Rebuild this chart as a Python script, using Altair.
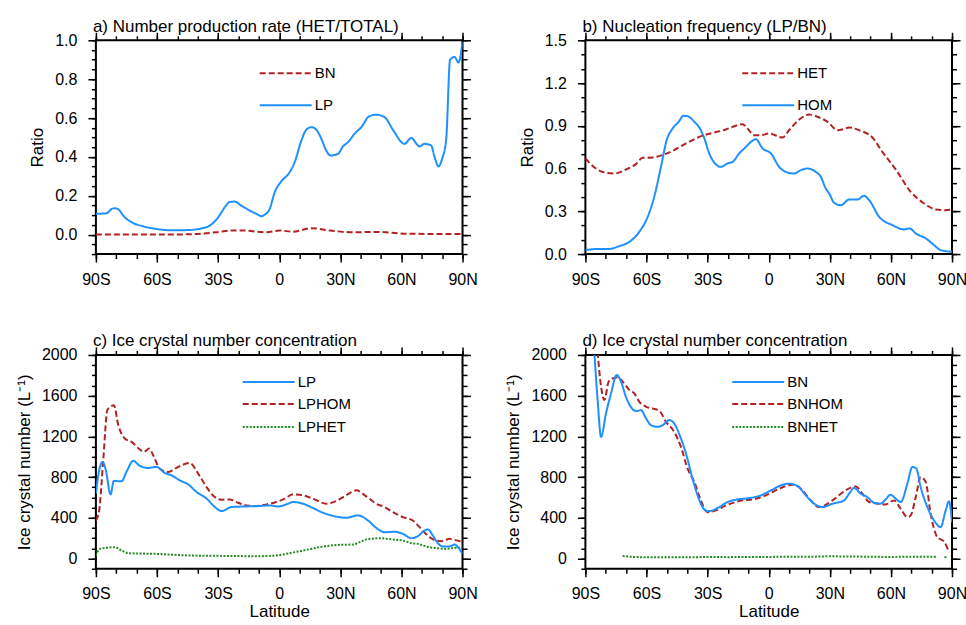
import altair as alt
import pandas as pd

FONT = "Liberation Sans"
BLUE, RED, GREEN = "#1e90ff", "#b22222", "#228b22"
SOLID, DASHED, DOTTED = [1, 0], [6, 3], [2, 1.5]

# ---- a) number production rate HET/TOTAL (latitude, ratio) ----
A_BN = [(-90, 0.0), (-60, 0.0), (-43.9, 0.002), (-31, 0.012), (-22.7, 0.021), (-17.8, 0.021),
        (-6.3, 0.012), (0.2, 0.021), (6.8, 0.015), (15.8, 0.033), (24.8, 0.021), (36.2, 0.012),
        (47.6, 0.014), (62.4, 0.005), (80.3, 0.003), (90, 0.003)]
A_LP = [(-90, 0.107), (-84.8, 0.11), (-82.3, 0.132), (-80.7, 0.136), (-78.6, 0.127), (-76.6, 0.098),
        (-72.5, 0.064), (-66.8, 0.043), (-60.2, 0.029), (-52.1, 0.022), (-43.9, 0.024), (-37.4, 0.034),
        (-34.1, 0.046), (-30.0, 0.089), (-26.7, 0.141), (-24.3, 0.168), (-21.8, 0.170), (-18.6, 0.149),
        (-14.5, 0.124), (-11.2, 0.107), (-8.8, 0.095), (-7.1, 0.103), (-4.7, 0.132), (-2.2, 0.218),
        (1.1, 0.275), (4.8, 0.316), (7.6, 0.373), (10.9, 0.485), (13.3, 0.540), (15.8, 0.553),
        (18.2, 0.540), (20.7, 0.493), (23.1, 0.433), (25.1, 0.407), (28.9, 0.416), (31.3, 0.454),
        (33.8, 0.476), (37.0, 0.519), (40.3, 0.553), (44.1, 0.608), (47.6, 0.617), (51.7, 0.605),
        (55.8, 0.540), (61.5, 0.467), (64.8, 0.497), (68.9, 0.454), (71.3, 0.467), (74.6, 0.459),
        (76.3, 0.399), (78.2, 0.351), (80.0, 0.390), (82.0, 0.493), (83.9, 0.900), (86.1, 0.914),
        (88.0, 0.885), (90, 0.991)]

# ---- b) nucleation frequency LP/BN ----
B_HET = [(-90, 0.671), (-84.8, 0.600), (-79.9, 0.570), (-75.8, 0.565), (-70.1, 0.593), (-65.2, 0.631),
         (-61.9, 0.675), (-57.0, 0.678), (-51.3, 0.699), (-47.2, 0.724), (-40.6, 0.776), (-34.1, 0.822),
         (-27.6, 0.850), (-21.0, 0.874), (-16.9, 0.897), (-12.8, 0.911), (-10.4, 0.881), (-7.1, 0.834),
         (-3.8, 0.834), (0.2, 0.846), (6.8, 0.818), (10.0, 0.869), (15.0, 0.944), (19.9, 0.979),
         (24.8, 0.958), (28.9, 0.928), (33.8, 0.869), (36.2, 0.874), (39.5, 0.888), (44.4, 0.869),
         (50.9, 0.818), (55.8, 0.717), (62.4, 0.593), (69.7, 0.437), (76.3, 0.355), (82.0, 0.313),
         (86.9, 0.308), (90, 0.313)]
B_HOM = [(-90, 0.028), (-84.8, 0.035), (-79, 0.035), (-73.3, 0.056), (-68.4, 0.086), (-63.5, 0.157),
         (-59.4, 0.262), (-56.2, 0.402), (-52.9, 0.612), (-50.1, 0.799), (-47.2, 0.881), (-44.2, 0.928),
         (-41.9, 0.970), (-39.8, 0.967), (-36.5, 0.928), (-33.8, 0.881), (-31.6, 0.811), (-29.2, 0.706),
         (-25.9, 0.629), (-23.5, 0.612), (-20.2, 0.636), (-17.7, 0.647), (-14.5, 0.706), (-11.2, 0.752),
         (-8.3, 0.792), (-6.3, 0.806), (-3.0, 0.741), (1.1, 0.706), (5.1, 0.612), (8.4, 0.577),
         (12.5, 0.565), (15.8, 0.589), (19.0, 0.600), (23.1, 0.577), (25.6, 0.542), (28.0, 0.460),
         (29.7, 0.425), (32.1, 0.360), (35.4, 0.343), (39.5, 0.383), (43.6, 0.383), (46.8, 0.409),
         (49.3, 0.379), (54.2, 0.262), (60.7, 0.203), (66.4, 0.173), (69.2, 0.180), (72.2, 0.145),
         (77.1, 0.110), (81.2, 0.063), (84.4, 0.028), (90, 0.016)]

# ---- c) ice crystal number concentration, LP scheme (L-1) ----
C_LP = [(-90, 637), (-88.4, 867), (-86.7, 949), (-85.1, 867), (-82.8, 630), (-81.2, 762), (-77.4, 759),
        (-75.0, 851), (-71.7, 959), (-68.4, 910), (-64.3, 890), (-60.2, 900), (-56.2, 841), (-52.9, 818),
        (-48.8, 768), (-44.7, 729), (-40.6, 654), (-35.6, 588), (-31.6, 506), (-28.4, 466), (-23.5, 506),
        (-16.1, 512), (-9.6, 516), (-4.7, 522), (-0.6, 512), (3.5, 532), (6.8, 555), (11.7, 539),
        (16.6, 496), (21.5, 450), (25.6, 424), (32.9, 401), (38.7, 424), (43.6, 374), (47.6, 302),
        (51.7, 259), (56.6, 263), (60.7, 243), (64.8, 200), (68.1, 220), (71.4, 276), (73.0, 286),
        (75.4, 227), (77.9, 151), (80.3, 118), (83.6, 118), (86.1, 138), (87.7, 112), (90, 46)]
C_LPHOM = [(-90, 374), (-88.4, 473), (-86.4, 965), (-84.4, 1458), (-82.8, 1491), (-81.2, 1507),
           (-79.0, 1310), (-75.8, 1179), (-72.5, 1146), (-68.4, 1071), (-66.5, 1048), (-63.8, 1080),
           (-61.9, 1015), (-58.6, 883), (-54.5, 851), (-49.6, 900), (-43.9, 939), (-39.8, 834),
           (-35.7, 703), (-31.6, 604), (-28.4, 578), (-24.3, 581), (-20.2, 548), (-16.1, 522),
           (-11.2, 516), (-6.3, 532), (-1.4, 555), (2.7, 588), (6.8, 631), (11.7, 621), (16.6, 588),
           (23.1, 539), (28.0, 565), (32.9, 621), (37.8, 670), (42.7, 611), (47.6, 539), (51.7, 506),
           (55.8, 456), (60.7, 407), (65.6, 374), (68.9, 309), (73.8, 210), (77.1, 177), (80.3, 171),
           (83.6, 194), (86.1, 184), (88.5, 171), (90, 167)]
C_LPHET = [(-90, 30), (-88, 95), (-84.8, 105), (-80.7, 112), (-77.4, 79), (-74.1, 53), (-60.2, 46),
           (-43.9, 30), (-27.6, 26), (-11.2, 23), (-1.4, 30), (5.1, 53), (13.3, 85), (21.5, 118),
           (29.7, 135), (36.2, 138), (39.5, 161), (42.7, 187), (49.3, 200), (55.8, 187), (60.7, 177),
           (64.8, 151), (68.1, 144), (72.2, 118), (77.1, 102), (82.0, 95), (86.9, 105), (90, 105)]

# ---- d) ice crystal number concentration, BN scheme (L-1) ----
D_BN = [(-90, 3280), (-85.6, 2016), (-84.0, 1557), (-82.3, 1195), (-79.9, 1425), (-77.4, 1622),
        (-74.6, 1803), (-72.5, 1737), (-70.1, 1589), (-67.1, 1474), (-65.2, 1448), (-62.7, 1458),
        (-60.2, 1376), (-57.8, 1310), (-54.5, 1294), (-52.1, 1310), (-48.8, 1360), (-46.4, 1327),
        (-43.1, 1179), (-40.6, 1031), (-37.4, 785), (-34.9, 621), (-32.5, 506), (-30.0, 466),
        (-27.5, 473), (-24.3, 506), (-20.2, 555), (-16.1, 578), (-9.6, 594), (-3.8, 621), (1.1, 670),
        (6.0, 719), (10.0, 736), (14.1, 713), (18.2, 621), (22.3, 539), (26.4, 506), (31.3, 539),
        (37.0, 571), (39.5, 637), (41.9, 693), (45.2, 637), (48.4, 604), (51.7, 548), (54.9, 539),
        (57.4, 581), (59.9, 627), (62.4, 588), (64.8, 555), (68.1, 736), (70.5, 900), (72.5, 883),
        (74.6, 703), (77.9, 506), (81.2, 374), (84.4, 309), (86.9, 473), (88.5, 562), (90, 358)]
D_BNHOM = [(-90, 3170), (-84.0, 2016), (-82.3, 1688), (-80.7, 1557), (-78.6, 1737), (-76.6, 1770),
           (-74.1, 1780), (-71.7, 1737), (-68.7, 1662), (-66.0, 1622), (-63.5, 1540), (-60.2, 1491),
           (-57.0, 1474), (-53.7, 1452), (-50.4, 1343), (-46.4, 1245), (-43.1, 1097), (-39.8, 883),
           (-36.5, 752), (-33.3, 571), (-30.0, 456), (-25.9, 473), (-21.0, 522), (-14.5, 565),
           (-6.3, 588), (-1.4, 621), (5.1, 686), (11.7, 726), (15.8, 686), (19.9, 588), (24.8, 506),
           (31.3, 571), (37.8, 670), (42.7, 709), (46.0, 637), (49.3, 555), (54.2, 539), (57.4, 532),
           (61.5, 571), (64.8, 489), (68.1, 407), (69.7, 424), (72.2, 604), (74.6, 801), (77.1, 752),
           (79.5, 440), (82.8, 210), (86.1, 167), (88.5, 62)]
# None marks a missing value (gap in the curve)
D_BNHET = [(-71.7, 25), (-69, 20), (-65, 15), (-55, 12), (-40, 12), (-30, 15), (-20, 14), (-10, 15),
           (0, 16), (10, 18), (20, 18), (30, 22), (40, 20), (50, 18), (60, 16), (70, 18), (80, 18),
           (82.3, 17), (84.3, None), (86.3, 12), (87.7, 14)]

X_MAJOR = [-90, -60, -30, 0, 30, 60, 90]
X_MINOR = list(range(-90, 91, 10))
X_LABEL = ("datum.value === 0 ? '0' : datum.value < 0 ? (-datum.value) + 'S' : datum.value + 'N'")

W, H = 367, 214
MAJOR_TICK, MINOR_TICK = 8, 4.5


def long_frame(series):
    rows = []
    for name, pairs in series:
        seg = 0
        for lat, v in pairs:
            if v is None:
                seg += 1
                continue
            rows.append({"lat": lat, "val": v, "series": name, "seg": f"{name}-{seg}"})
    return pd.DataFrame(rows)


def panel(title, series, styles, ydom, ymajor, yminor, yfmt, ytitle, legend_x, legend_y, xtitle):
    df = long_frame(series)
    names = [n for n, _ in series]
    order = list(styles.keys())
    xs = alt.Scale(domain=[-90, 90], nice=False, zero=False)
    ys = alt.Scale(domain=ydom, nice=False, zero=False)
    base = alt.Chart(df)

    lines = base.mark_line(strokeWidth=2, clip=True, interpolate="monotone").encode(
        x=alt.X("lat:Q", scale=xs, axis=alt.Axis(orient="bottom", values=X_MAJOR, labelExpr=X_LABEL,
                                                  tickSize=MAJOR_TICK, title=xtitle)),
        y=alt.Y("val:Q", scale=ys, axis=alt.Axis(orient="left", values=ymajor, format=yfmt,
                                                  tickSize=MAJOR_TICK, title=ytitle)),
        color=alt.Color("series:N", legend=None,
                        scale=alt.Scale(domain=names, range=[styles[n][0] for n in names])),
        strokeDash=alt.StrokeDash("series:N", legend=None,
                                  scale=alt.Scale(domain=names, range=[styles[n][1] for n in names])),
        detail="seg:N",
    )

    # invisible carriers for the minor ticks and the mirrored top/right tick marks
    def ticks_only(xo, yo, xv, yv, size):
        return base.mark_point(opacity=0, size=1, clip=True).encode(
            x=alt.X("lat:Q", scale=xs, axis=alt.Axis(orient=xo, values=xv, labels=False,
                                                      tickSize=size, title=None)),
            y=alt.Y("val:Q", scale=ys, axis=alt.Axis(orient=yo, values=yv, labels=False,
                                                      tickSize=size, title=None)),
        )

    layers = [
        lines,
        ticks_only("bottom", "left", X_MINOR, yminor, MINOR_TICK),
        ticks_only("top", "right", X_MAJOR, ymajor, MAJOR_TICK),
        ticks_only("top", "right", X_MINOR, yminor, MINOR_TICK),
    ]

    # in-plot legend: a short line sample followed by the series name
    for i, name in enumerate(order):
        color, dash = styles[name]
        key = alt.Chart(pd.DataFrame({"series": [name]}))
        layers.append(key.mark_rule(color=color, strokeDash=dash, strokeWidth=2).encode(
            x=alt.value(legend_x), x2=alt.value(legend_x + 52), y=alt.value(legend_y[i])))
        layers.append(key.mark_text(align="left", baseline="middle", fontSize=15, font=FONT,
                                    color="black").encode(
            text="series:N", x=alt.value(legend_x + 55), y=alt.value(legend_y[i])))

    return alt.layer(*layers).resolve_axis(x="independent", y="independent").properties(
        width=W, height=H,
        title=alt.TitleParams(title, anchor="start", frame="group", dx=-3, offset=-4, fontSize=17,
                              font=FONT, fontWeight="normal", color="black"),
    )


A_MAJOR = [0.0, 0.2, 0.4, 0.6, 0.8, 1.0]
A_MINOR = [round(i * 0.05, 2) for i in range(-2, 21)]
B_MAJOR = [0.0, 0.3, 0.6, 0.9, 1.2, 1.5]
B_MINOR = [round(i * 0.1, 1) for i in range(0, 16)]
N_MAJOR = [0, 400, 800, 1200, 1600, 2000]
N_MINOR = list(range(-100, 2001, 100))
N_TITLE = "Ice crystal number (L\u207b\u00b9)"

pa = panel("a) Number production rate (HET/TOTAL)",
           [("LP", A_LP), ("BN", A_BN)],
           {"BN": (RED, DASHED), "LP": (BLUE, SOLID)},
           [-0.1, 1.0], A_MAJOR, A_MINOR, ".1f", "Ratio", 164, [33, 65], None)
pb = panel("b) Nucleation frequency (LP/BN)",
           [("HOM", B_HOM), ("HET", B_HET)],
           {"HET": (RED, DASHED), "HOM": (BLUE, SOLID)},
           [0, 1.5], B_MAJOR, B_MINOR, ".1f", "Ratio", 157, [33, 65], None)
pc = panel("c) Ice crystal number concentration",
           [("LPHET", C_LPHET), ("LPHOM", C_LPHOM), ("LP", C_LP)],
           {"LP": (BLUE, SOLID), "LPHOM": (RED, DASHED), "LPHET": (GREEN, DOTTED)},
           [-100, 2000], N_MAJOR, N_MINOR, "d", N_TITLE, 147, [27, 49, 72], "Latitude")
pd_ = panel("d) Ice crystal number concentration",
            [("BNHET", D_BNHET), ("BNHOM", D_BNHOM), ("BN", D_BN)],
            {"BN": (BLUE, SOLID), "BNHOM": (RED, DASHED), "BNHET": (GREEN, DOTTED)},
            [-100, 2000], N_MAJOR, N_MINOR, "d", N_TITLE, 147, [27, 49, 72], "Latitude")

chart = alt.concat(pa, pb, pc, pd_, columns=2, spacing={"row": 43, "column": 25}).resolve_scale(
    color="independent", strokeDash="independent",
).properties(
    padding={"left": 14, "top": 16, "right": -2, "bottom": 0},
    background="white",
).configure_view(
    stroke="black", strokeWidth=2,
).configure_axis(
    domain=False, grid=False, tickColor="black", tickWidth=1.5,
    labelFont=FONT, labelFontSize=16, labelColor="black", labelPadding=11,
    labelFlush=False, labelOverlap=False,
    titleFont=FONT, titleFontSize=17, titleFontWeight="normal", titleColor="black", titlePadding=8,
).configure_axisBottom(labelPadding=9, titlePadding=2)

chart.save("out.html", embed_options={"renderer": "svg", "actions": False})
